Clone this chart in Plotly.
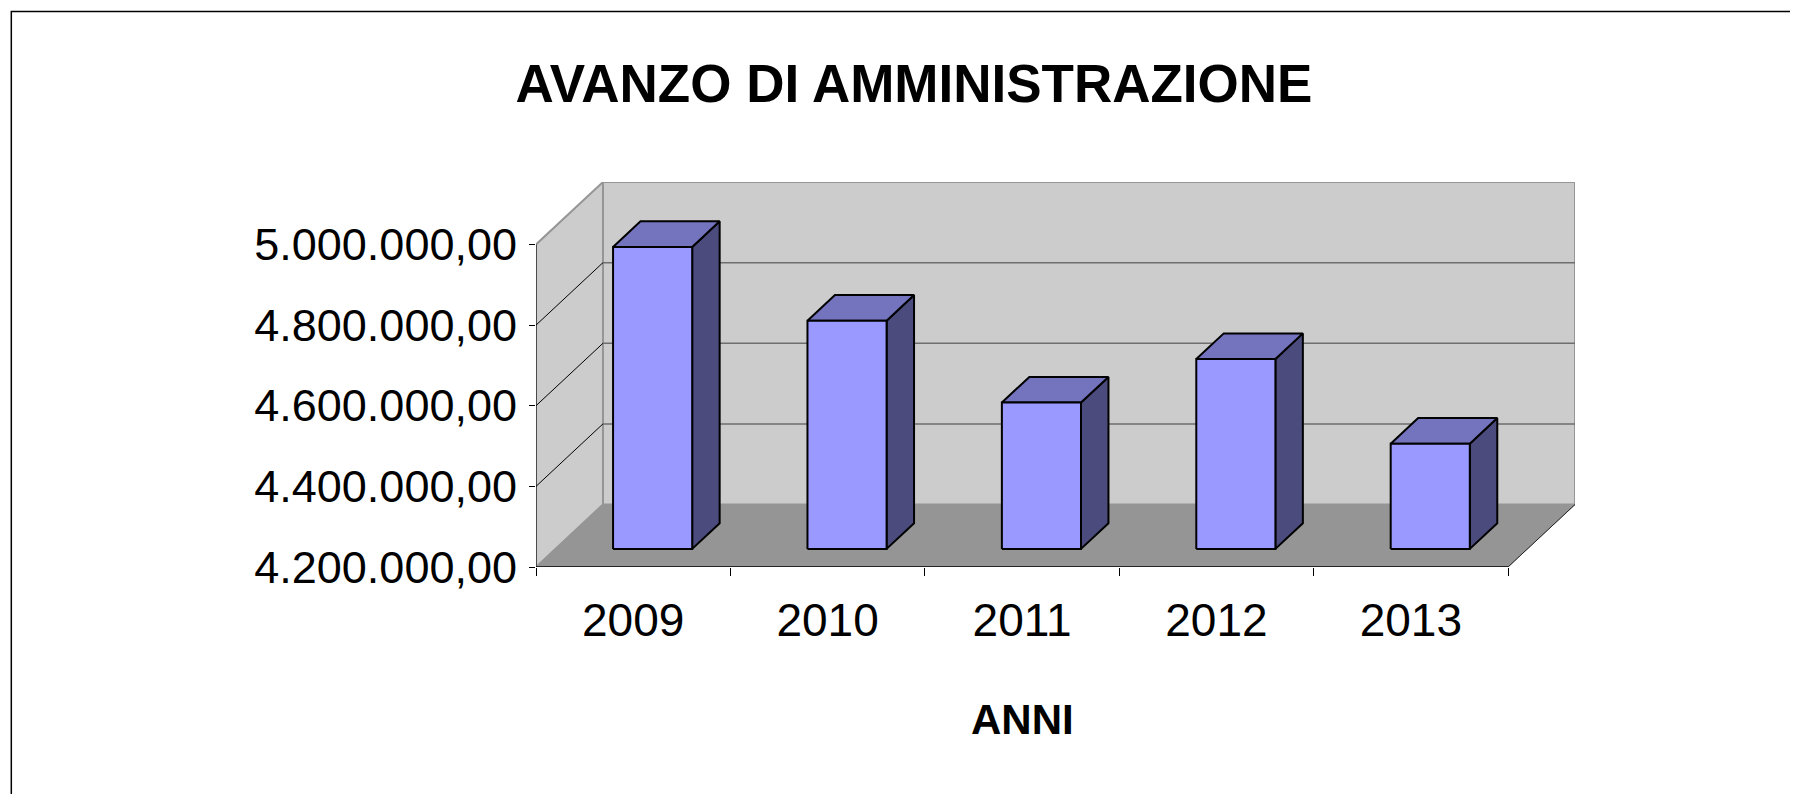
import plotly.graph_objects as go

# ---- data ----
years = ["2009", "2010", "2011", "2012", "2013"]
avanzo = [4949000, 4766000, 4563000, 4671000, 4461000]
tick_values = [4200000, 4400000, 4600000, 4800000, 5000000]
tick_labels = ["4.200.000,00", "4.400.000,00", "4.600.000,00", "4.800.000,00", "5.000.000,00"]

# ---- 3D projection settings (oblique) ----
YMIN, YMAX = 4200000, 5000000
DX = 0.3445      # depth shift in category units
DY = 155000      # depth shift in value units
HW = 0.2035      # half bar width (category units)
D0, D1 = 0.29, 0.70  # bar depth span (fraction of full depth)
XL, XR = -0.5, len(years) - 0.5

FONT = "Liberation Sans, Arial, sans-serif"

# page body has an 8px margin: figure starts at (8, 8) and runs to the page edge
W, H = 1790, 786
OFF = 8

def P(c, v, d):
    return c + d * DX, v + d * DY

def poly(points):
    xs, ys = [], []
    for (c, v, d) in points:
        x, y = P(c, v, d)
        xs.append(x)
        ys.append(y)
    xs.append(xs[0])
    ys.append(ys[0])
    return xs, ys

fig = go.Figure()

def add_poly(points, fill, line_color, line_width):
    xs, ys = poly(points)
    fig.add_trace(go.Scatter(x=xs, y=ys, mode="lines", fill="toself", fillcolor=fill,
                             line=dict(color=line_color, width=line_width),
                             hoverinfo="skip", showlegend=False))

def add_line(points, color, width):
    xs, ys = [], []
    for (c, v, d) in points:
        x, y = P(c, v, d)
        xs.append(x)
        ys.append(y)
    fig.add_trace(go.Scatter(x=xs, y=ys, mode="lines", line=dict(color=color, width=width),
                             hoverinfo="skip", showlegend=False))

# walls
add_poly([(XL, YMIN, 1), (XR, YMIN, 1), (XR, YMAX, 1), (XL, YMAX, 1)], "#CCCCCC", "#969696", 2)
add_poly([(XL, YMIN, 0), (XL, YMIN, 1), (XL, YMAX, 1), (XL, YMAX, 0)], "#CCCCCC", "#969696", 2)
# gridlines
for v in tick_values[1:-1]:
    add_line([(XL, v, 0), (XL, v, 1)], "#000000", 1)
    add_line([(XL, v, 1), (XR, v, 1)], "#6E6E6E", 1.5)
# floor
add_poly([(XL, YMIN, 0), (XR, YMIN, 0), (XR, YMIN, 1), (XL, YMIN, 1)], "#959595", "#959595", 1)
add_line([(XR, YMIN, 0), (XR, YMIN, 1)], "#222222", 1)
# front axis lines
add_line([(XL, YMIN, 0), (XL, YMAX, 0)], "#000000", 1)
add_line([(XL, YMIN, 0), (XR, YMIN, 0)], "#000000", 1.5)

# bars
for i, v in enumerate(avanzo):
    # side face
    add_poly([(i + HW, YMIN, D0), (i + HW, YMIN, D1), (i + HW, v, D1), (i + HW, v, D0)],
             "#4B4B7D", "#000000", 2)
    # top face
    add_poly([(i - HW, v, D0), (i + HW, v, D0), (i + HW, v, D1), (i - HW, v, D1)],
             "#7373BE", "#000000", 2)
    # front face
    add_poly([(i - HW, YMIN, D0), (i + HW, YMIN, D0), (i + HW, v, D0), (i - HW, v, D0)],
             "#9999FF", "#000000", 2)

# border of chart area
fig.add_shape(type="rect", xref="paper", yref="paper", x0=-0.505, x1=2.0, y0=-1.0, y1=1.443,
              line=dict(color="#000000", width=1.5), fillcolor="rgba(0,0,0,0)", layer="below")

fig.add_annotation(x=(len(years) - 1) / 2, xref="x", y=-0.395, yref="paper",
                   text="ANNI", showarrow=False, xanchor="center", yanchor="middle",
                   font=dict(family=FONT, size=42, color="#000000", weight="bold"))

fig.update_layout(
    width=W, height=H,
    margin=dict(l=536 - OFF, r=W - (1575 - OFF), t=182 - OFF, b=H - (567 - OFF), pad=0),
    paper_bgcolor="#FFFFFF", plot_bgcolor="rgba(0,0,0,0)",
    showlegend=False,
    title=dict(text="AVANZO DI AMMINISTRAZIONE", x=(914 - OFF) / W, xref="container",
               xanchor="center", y=1 - (83 - OFF) / H, yref="container", yanchor="middle",
               font=dict(family=FONT, size=53, color="#000000", weight="bold")),
    xaxis=dict(range=[XL, XR + DX], showgrid=False, zeroline=False, showline=False,
               tickmode="array", tickvals=list(range(len(years))), ticktext=years, ticks="",
               tickfont=dict(family=FONT, size=46, color="#000000"), ticklabelstandoff=22,
               minor=dict(tickmode="array", tickvals=[k - 0.5 for k in range(len(years) + 1)],
                          ticks="outside", ticklen=8, tickcolor="#000000", tickwidth=1,
                          showgrid=False),
               fixedrange=True),
    yaxis=dict(range=[YMIN, YMAX + DY], showgrid=False, zeroline=False, showline=False,
               tickmode="array", tickvals=tick_values, ticktext=tick_labels,
               ticks="outside", ticklen=6, tickcolor="#000000", tickwidth=1,
               tickfont=dict(family=FONT, size=45, color="#000000"), ticklabelstandoff=3,
               fixedrange=True),
)

fig.write_html("out.html")
